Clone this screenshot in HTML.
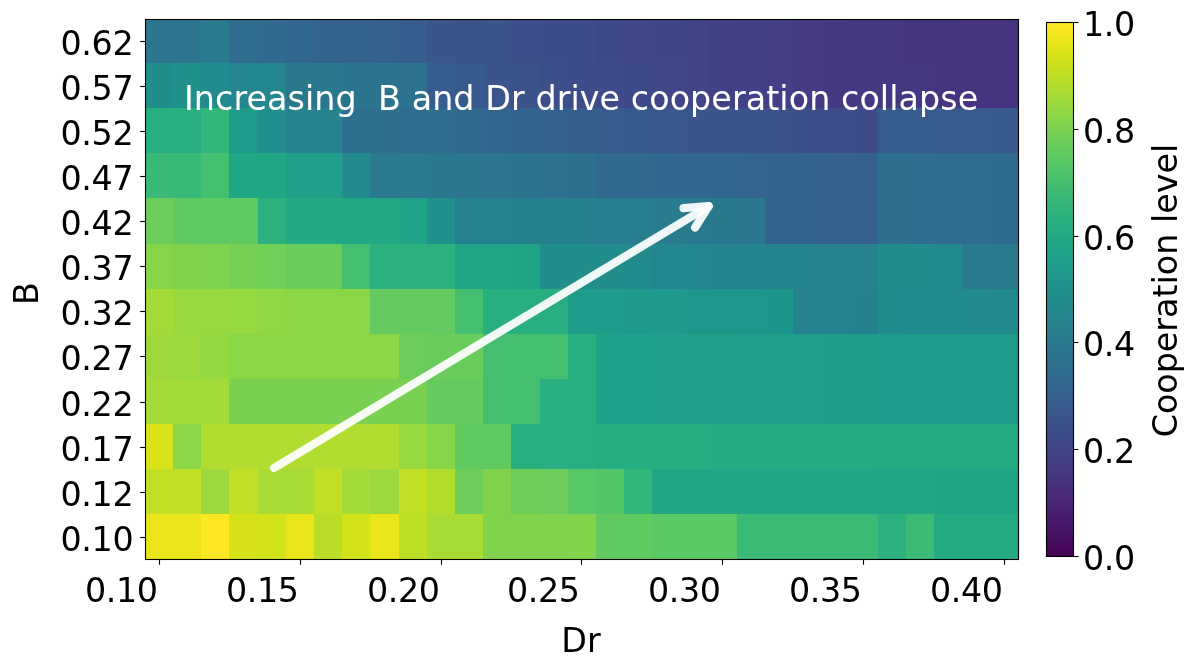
<!DOCTYPE html>
<html lang="en"><head><meta charset="utf-8"><title>Cooperation heatmap</title>
<style>html,body{margin:0;padding:0;background:#fff}body{width:1195px;height:668px;overflow:hidden}svg{display:block}text{font-family:"DejaVu Sans","Liberation Sans",sans-serif;font-size:33.33px;fill:#000}</style></head><body>
<svg width="1195" height="668" viewBox="0 0 1195 668">
<rect width="1195" height="668" fill="#fff"/>
<defs><clipPath id="axclip"><rect x="145.5" y="19.5" width="873" height="540"/></clipPath>
<linearGradient id="vir" x1="0" y1="0" x2="0" y2="1"><stop offset="0.0000" stop-color="#fde725"/><stop offset="0.0156" stop-color="#f6e620"/><stop offset="0.0312" stop-color="#ece51b"/><stop offset="0.0469" stop-color="#e2e418"/><stop offset="0.0625" stop-color="#d8e219"/><stop offset="0.0781" stop-color="#cde11d"/><stop offset="0.0938" stop-color="#c2df23"/><stop offset="0.1094" stop-color="#b8de29"/><stop offset="0.1250" stop-color="#addc30"/><stop offset="0.1406" stop-color="#a2da37"/><stop offset="0.1562" stop-color="#98d83e"/><stop offset="0.1719" stop-color="#8ed645"/><stop offset="0.1875" stop-color="#84d44b"/><stop offset="0.2031" stop-color="#7ad151"/><stop offset="0.2188" stop-color="#70cf57"/><stop offset="0.2344" stop-color="#67cc5c"/><stop offset="0.2500" stop-color="#5ec962"/><stop offset="0.2656" stop-color="#56c667"/><stop offset="0.2812" stop-color="#4ec36b"/><stop offset="0.2969" stop-color="#46c06f"/><stop offset="0.3125" stop-color="#3fbc73"/><stop offset="0.3281" stop-color="#38b977"/><stop offset="0.3438" stop-color="#32b67a"/><stop offset="0.3594" stop-color="#2db27d"/><stop offset="0.3750" stop-color="#28ae80"/><stop offset="0.3906" stop-color="#25ab82"/><stop offset="0.4062" stop-color="#22a785"/><stop offset="0.4219" stop-color="#20a386"/><stop offset="0.4375" stop-color="#1fa088"/><stop offset="0.4531" stop-color="#1e9c89"/><stop offset="0.4688" stop-color="#1f988b"/><stop offset="0.4844" stop-color="#1f948c"/><stop offset="0.5000" stop-color="#21918c"/><stop offset="0.5156" stop-color="#228d8d"/><stop offset="0.5312" stop-color="#23898e"/><stop offset="0.5469" stop-color="#25858e"/><stop offset="0.5625" stop-color="#26828e"/><stop offset="0.5781" stop-color="#277e8e"/><stop offset="0.5938" stop-color="#297a8e"/><stop offset="0.6094" stop-color="#2a768e"/><stop offset="0.6250" stop-color="#2c728e"/><stop offset="0.6406" stop-color="#2e6f8e"/><stop offset="0.6562" stop-color="#2f6b8e"/><stop offset="0.6719" stop-color="#31678e"/><stop offset="0.6875" stop-color="#33638d"/><stop offset="0.7031" stop-color="#355f8d"/><stop offset="0.7188" stop-color="#375b8d"/><stop offset="0.7344" stop-color="#39568c"/><stop offset="0.7500" stop-color="#3b528b"/><stop offset="0.7656" stop-color="#3d4e8a"/><stop offset="0.7812" stop-color="#3e4989"/><stop offset="0.7969" stop-color="#404588"/><stop offset="0.8125" stop-color="#424086"/><stop offset="0.8281" stop-color="#443b84"/><stop offset="0.8438" stop-color="#453781"/><stop offset="0.8594" stop-color="#46327e"/><stop offset="0.8750" stop-color="#472d7b"/><stop offset="0.8906" stop-color="#482878"/><stop offset="0.9062" stop-color="#482374"/><stop offset="0.9219" stop-color="#481d6f"/><stop offset="0.9375" stop-color="#48186a"/><stop offset="0.9531" stop-color="#471365"/><stop offset="0.9688" stop-color="#470d60"/><stop offset="0.9844" stop-color="#46075a"/><stop offset="1.0000" stop-color="#440154"/></linearGradient></defs>
<g clip-path="url(#axclip)" shape-rendering="crispEdges">
<rect x="145.00" y="19.00" width="875.50" height="542.50" fill="#2b758e"/>
<rect x="173.00" y="19.00" width="847.50" height="542.50" fill="#2b758e"/>
<rect x="201.00" y="19.00" width="819.50" height="542.50" fill="#287c8e"/>
<rect x="229.00" y="19.00" width="791.50" height="542.50" fill="#2f6c8e"/>
<rect x="258.00" y="19.00" width="762.50" height="542.50" fill="#306a8e"/>
<rect x="286.00" y="19.00" width="734.50" height="542.50" fill="#31678e"/>
<rect x="314.00" y="19.00" width="706.50" height="542.50" fill="#33628d"/>
<rect x="342.00" y="19.00" width="678.50" height="542.50" fill="#33628d"/>
<rect x="370.00" y="19.00" width="650.50" height="542.50" fill="#355f8d"/>
<rect x="399.00" y="19.00" width="621.50" height="542.50" fill="#365d8d"/>
<rect x="427.00" y="19.00" width="593.50" height="542.50" fill="#39558c"/>
<rect x="455.00" y="19.00" width="565.50" height="542.50" fill="#3b528b"/>
<rect x="483.00" y="19.00" width="537.50" height="542.50" fill="#3a548c"/>
<rect x="511.00" y="19.00" width="509.50" height="542.50" fill="#3d4e8a"/>
<rect x="540.00" y="19.00" width="480.50" height="542.50" fill="#3e4c8a"/>
<rect x="568.00" y="19.00" width="452.50" height="542.50" fill="#3e4c8a"/>
<rect x="596.00" y="19.00" width="424.50" height="542.50" fill="#3e4989"/>
<rect x="624.00" y="19.00" width="396.50" height="542.50" fill="#404688"/>
<rect x="652.00" y="19.00" width="368.50" height="542.50" fill="#404588"/>
<rect x="681.00" y="19.00" width="339.50" height="542.50" fill="#414487"/>
<rect x="709.00" y="19.00" width="311.50" height="542.50" fill="#424086"/>
<rect x="737.00" y="19.00" width="283.50" height="542.50" fill="#423f85"/>
<rect x="765.00" y="19.00" width="255.50" height="542.50" fill="#433e85"/>
<rect x="793.00" y="19.00" width="227.50" height="542.50" fill="#443b84"/>
<rect x="821.00" y="19.00" width="199.50" height="542.50" fill="#443a83"/>
<rect x="850.00" y="19.00" width="170.50" height="542.50" fill="#443983"/>
<rect x="878.00" y="19.00" width="142.50" height="542.50" fill="#453781"/>
<rect x="906.00" y="19.00" width="114.50" height="542.50" fill="#453581"/>
<rect x="934.00" y="19.00" width="86.50" height="542.50" fill="#453581"/>
<rect x="962.00" y="19.00" width="58.50" height="542.50" fill="#463480"/>
<rect x="991.00" y="19.00" width="29.50" height="542.50" fill="#463480"/>
<rect x="145.00" y="63.00" width="875.50" height="498.50" fill="#218e8d"/>
<rect x="173.00" y="63.00" width="847.50" height="498.50" fill="#21918c"/>
<rect x="201.00" y="63.00" width="819.50" height="498.50" fill="#228b8d"/>
<rect x="229.00" y="63.00" width="791.50" height="498.50" fill="#24868e"/>
<rect x="258.00" y="63.00" width="762.50" height="498.50" fill="#24868e"/>
<rect x="286.00" y="63.00" width="734.50" height="498.50" fill="#2a788e"/>
<rect x="314.00" y="63.00" width="706.50" height="498.50" fill="#2a788e"/>
<rect x="342.00" y="63.00" width="678.50" height="498.50" fill="#2b748e"/>
<rect x="370.00" y="63.00" width="650.50" height="498.50" fill="#2c738e"/>
<rect x="399.00" y="63.00" width="621.50" height="498.50" fill="#2c728e"/>
<rect x="427.00" y="63.00" width="593.50" height="498.50" fill="#365d8d"/>
<rect x="455.00" y="63.00" width="565.50" height="498.50" fill="#375a8c"/>
<rect x="483.00" y="63.00" width="537.50" height="498.50" fill="#39558c"/>
<rect x="511.00" y="63.00" width="509.50" height="498.50" fill="#3b528b"/>
<rect x="540.00" y="63.00" width="480.50" height="498.50" fill="#3c4f8a"/>
<rect x="568.00" y="63.00" width="452.50" height="498.50" fill="#3e4c8a"/>
<rect x="596.00" y="63.00" width="424.50" height="498.50" fill="#3e4a89"/>
<rect x="624.00" y="63.00" width="396.50" height="498.50" fill="#3e4989"/>
<rect x="652.00" y="63.00" width="368.50" height="498.50" fill="#404688"/>
<rect x="681.00" y="63.00" width="339.50" height="498.50" fill="#414487"/>
<rect x="709.00" y="63.00" width="311.50" height="498.50" fill="#424186"/>
<rect x="737.00" y="63.00" width="283.50" height="498.50" fill="#424086"/>
<rect x="765.00" y="63.00" width="255.50" height="498.50" fill="#433e85"/>
<rect x="793.00" y="63.00" width="227.50" height="498.50" fill="#443b84"/>
<rect x="821.00" y="63.00" width="199.50" height="498.50" fill="#443a83"/>
<rect x="850.00" y="63.00" width="170.50" height="498.50" fill="#443983"/>
<rect x="878.00" y="63.00" width="142.50" height="498.50" fill="#453781"/>
<rect x="906.00" y="63.00" width="114.50" height="498.50" fill="#453781"/>
<rect x="934.00" y="63.00" width="86.50" height="498.50" fill="#453581"/>
<rect x="962.00" y="63.00" width="58.50" height="498.50" fill="#463480"/>
<rect x="991.00" y="63.00" width="29.50" height="498.50" fill="#463480"/>
<rect x="145.00" y="108.00" width="875.50" height="453.50" fill="#29af7f"/>
<rect x="173.00" y="108.00" width="847.50" height="453.50" fill="#28ae80"/>
<rect x="201.00" y="108.00" width="819.50" height="453.50" fill="#32b67a"/>
<rect x="229.00" y="108.00" width="791.50" height="453.50" fill="#1e9c89"/>
<rect x="258.00" y="108.00" width="762.50" height="453.50" fill="#218f8d"/>
<rect x="286.00" y="108.00" width="734.50" height="453.50" fill="#26828e"/>
<rect x="314.00" y="108.00" width="706.50" height="453.50" fill="#26828e"/>
<rect x="342.00" y="108.00" width="678.50" height="453.50" fill="#2d708e"/>
<rect x="370.00" y="108.00" width="650.50" height="453.50" fill="#2e6f8e"/>
<rect x="399.00" y="108.00" width="621.50" height="453.50" fill="#2e6d8e"/>
<rect x="427.00" y="108.00" width="593.50" height="453.50" fill="#2f6c8e"/>
<rect x="455.00" y="108.00" width="565.50" height="453.50" fill="#31688e"/>
<rect x="483.00" y="108.00" width="537.50" height="453.50" fill="#31668e"/>
<rect x="511.00" y="108.00" width="509.50" height="453.50" fill="#33638d"/>
<rect x="540.00" y="108.00" width="480.50" height="453.50" fill="#34618d"/>
<rect x="568.00" y="108.00" width="452.50" height="453.50" fill="#355e8d"/>
<rect x="596.00" y="108.00" width="424.50" height="453.50" fill="#375b8d"/>
<rect x="624.00" y="108.00" width="396.50" height="453.50" fill="#375a8c"/>
<rect x="652.00" y="108.00" width="368.50" height="453.50" fill="#38588c"/>
<rect x="681.00" y="108.00" width="339.50" height="453.50" fill="#39558c"/>
<rect x="709.00" y="108.00" width="311.50" height="453.50" fill="#3a548c"/>
<rect x="737.00" y="108.00" width="283.50" height="453.50" fill="#3a538b"/>
<rect x="765.00" y="108.00" width="255.50" height="453.50" fill="#3b528b"/>
<rect x="793.00" y="108.00" width="227.50" height="453.50" fill="#3c4f8a"/>
<rect x="821.00" y="108.00" width="199.50" height="453.50" fill="#3d4e8a"/>
<rect x="850.00" y="108.00" width="170.50" height="453.50" fill="#3e4c8a"/>
<rect x="878.00" y="108.00" width="142.50" height="453.50" fill="#365d8d"/>
<rect x="906.00" y="108.00" width="114.50" height="453.50" fill="#365d8d"/>
<rect x="934.00" y="108.00" width="86.50" height="453.50" fill="#375b8d"/>
<rect x="962.00" y="108.00" width="58.50" height="453.50" fill="#375b8d"/>
<rect x="991.00" y="108.00" width="29.50" height="453.50" fill="#375a8c"/>
<rect x="145.00" y="153.00" width="875.50" height="408.50" fill="#38b977"/>
<rect x="173.00" y="153.00" width="847.50" height="408.50" fill="#38b977"/>
<rect x="201.00" y="153.00" width="819.50" height="408.50" fill="#44bf70"/>
<rect x="229.00" y="153.00" width="791.50" height="408.50" fill="#21a685"/>
<rect x="258.00" y="153.00" width="762.50" height="408.50" fill="#21a685"/>
<rect x="286.00" y="153.00" width="734.50" height="408.50" fill="#1f9e89"/>
<rect x="314.00" y="153.00" width="706.50" height="408.50" fill="#1f9e89"/>
<rect x="342.00" y="153.00" width="678.50" height="408.50" fill="#238a8d"/>
<rect x="370.00" y="153.00" width="650.50" height="408.50" fill="#297a8e"/>
<rect x="399.00" y="153.00" width="621.50" height="408.50" fill="#297a8e"/>
<rect x="427.00" y="153.00" width="593.50" height="408.50" fill="#2a788e"/>
<rect x="455.00" y="153.00" width="565.50" height="408.50" fill="#2a778e"/>
<rect x="483.00" y="153.00" width="537.50" height="408.50" fill="#2b758e"/>
<rect x="511.00" y="153.00" width="509.50" height="408.50" fill="#2b748e"/>
<rect x="540.00" y="153.00" width="480.50" height="408.50" fill="#2c728e"/>
<rect x="568.00" y="153.00" width="452.50" height="408.50" fill="#2d708e"/>
<rect x="596.00" y="153.00" width="424.50" height="408.50" fill="#31688e"/>
<rect x="624.00" y="153.00" width="396.50" height="408.50" fill="#31688e"/>
<rect x="652.00" y="153.00" width="368.50" height="408.50" fill="#31678e"/>
<rect x="681.00" y="153.00" width="339.50" height="408.50" fill="#31678e"/>
<rect x="709.00" y="153.00" width="311.50" height="408.50" fill="#31668e"/>
<rect x="737.00" y="153.00" width="283.50" height="408.50" fill="#32648e"/>
<rect x="765.00" y="153.00" width="255.50" height="408.50" fill="#33638d"/>
<rect x="793.00" y="153.00" width="227.50" height="408.50" fill="#33628d"/>
<rect x="821.00" y="153.00" width="199.50" height="408.50" fill="#34618d"/>
<rect x="850.00" y="153.00" width="170.50" height="408.50" fill="#355f8d"/>
<rect x="878.00" y="153.00" width="142.50" height="408.50" fill="#2e6f8e"/>
<rect x="906.00" y="153.00" width="114.50" height="408.50" fill="#2e6d8e"/>
<rect x="934.00" y="153.00" width="86.50" height="408.50" fill="#2f6c8e"/>
<rect x="962.00" y="153.00" width="58.50" height="408.50" fill="#2f6c8e"/>
<rect x="991.00" y="153.00" width="29.50" height="408.50" fill="#2f6b8e"/>
<rect x="145.00" y="198.00" width="875.50" height="363.50" fill="#6ccd5a"/>
<rect x="173.00" y="198.00" width="847.50" height="363.50" fill="#60ca60"/>
<rect x="201.00" y="198.00" width="819.50" height="363.50" fill="#5ec962"/>
<rect x="229.00" y="198.00" width="791.50" height="363.50" fill="#60ca60"/>
<rect x="258.00" y="198.00" width="762.50" height="363.50" fill="#2cb17e"/>
<rect x="286.00" y="198.00" width="734.50" height="363.50" fill="#22a884"/>
<rect x="314.00" y="198.00" width="706.50" height="363.50" fill="#22a884"/>
<rect x="342.00" y="198.00" width="678.50" height="363.50" fill="#22a884"/>
<rect x="370.00" y="198.00" width="650.50" height="363.50" fill="#22a884"/>
<rect x="399.00" y="198.00" width="621.50" height="363.50" fill="#20a386"/>
<rect x="427.00" y="198.00" width="593.50" height="363.50" fill="#21918c"/>
<rect x="455.00" y="198.00" width="565.50" height="363.50" fill="#26828e"/>
<rect x="483.00" y="198.00" width="537.50" height="363.50" fill="#26828e"/>
<rect x="511.00" y="198.00" width="509.50" height="363.50" fill="#26818e"/>
<rect x="540.00" y="198.00" width="480.50" height="363.50" fill="#27808e"/>
<rect x="568.00" y="198.00" width="452.50" height="363.50" fill="#27808e"/>
<rect x="596.00" y="198.00" width="424.50" height="363.50" fill="#277e8e"/>
<rect x="624.00" y="198.00" width="396.50" height="363.50" fill="#287d8e"/>
<rect x="652.00" y="198.00" width="368.50" height="363.50" fill="#287c8e"/>
<rect x="681.00" y="198.00" width="339.50" height="363.50" fill="#297a8e"/>
<rect x="709.00" y="198.00" width="311.50" height="363.50" fill="#29798e"/>
<rect x="737.00" y="198.00" width="283.50" height="363.50" fill="#2a788e"/>
<rect x="765.00" y="198.00" width="255.50" height="363.50" fill="#33638d"/>
<rect x="793.00" y="198.00" width="227.50" height="363.50" fill="#33628d"/>
<rect x="821.00" y="198.00" width="199.50" height="363.50" fill="#34618d"/>
<rect x="850.00" y="198.00" width="170.50" height="363.50" fill="#355f8d"/>
<rect x="878.00" y="198.00" width="142.50" height="363.50" fill="#2e6f8e"/>
<rect x="906.00" y="198.00" width="114.50" height="363.50" fill="#2e6d8e"/>
<rect x="934.00" y="198.00" width="86.50" height="363.50" fill="#2f6c8e"/>
<rect x="962.00" y="198.00" width="58.50" height="363.50" fill="#2f6c8e"/>
<rect x="991.00" y="198.00" width="29.50" height="363.50" fill="#2f6b8e"/>
<rect x="145.00" y="244.00" width="875.50" height="317.50" fill="#86d549"/>
<rect x="173.00" y="244.00" width="847.50" height="317.50" fill="#81d34d"/>
<rect x="201.00" y="244.00" width="819.50" height="317.50" fill="#7fd34e"/>
<rect x="229.00" y="244.00" width="791.50" height="317.50" fill="#75d054"/>
<rect x="258.00" y="244.00" width="762.50" height="317.50" fill="#70cf57"/>
<rect x="286.00" y="244.00" width="734.50" height="317.50" fill="#69cd5b"/>
<rect x="314.00" y="244.00" width="706.50" height="317.50" fill="#69cd5b"/>
<rect x="342.00" y="244.00" width="678.50" height="317.50" fill="#44bf70"/>
<rect x="370.00" y="244.00" width="650.50" height="317.50" fill="#2cb17e"/>
<rect x="399.00" y="244.00" width="621.50" height="317.50" fill="#2cb17e"/>
<rect x="427.00" y="244.00" width="593.50" height="317.50" fill="#2cb17e"/>
<rect x="455.00" y="244.00" width="565.50" height="317.50" fill="#21a685"/>
<rect x="483.00" y="244.00" width="537.50" height="317.50" fill="#21a685"/>
<rect x="511.00" y="244.00" width="509.50" height="317.50" fill="#20a486"/>
<rect x="540.00" y="244.00" width="480.50" height="317.50" fill="#228d8d"/>
<rect x="568.00" y="244.00" width="452.50" height="317.50" fill="#228d8d"/>
<rect x="596.00" y="244.00" width="424.50" height="317.50" fill="#228d8d"/>
<rect x="624.00" y="244.00" width="396.50" height="317.50" fill="#228b8d"/>
<rect x="652.00" y="244.00" width="368.50" height="317.50" fill="#24868e"/>
<rect x="681.00" y="244.00" width="339.50" height="317.50" fill="#24868e"/>
<rect x="709.00" y="244.00" width="311.50" height="317.50" fill="#25858e"/>
<rect x="737.00" y="244.00" width="283.50" height="317.50" fill="#25858e"/>
<rect x="765.00" y="244.00" width="255.50" height="317.50" fill="#25848e"/>
<rect x="793.00" y="244.00" width="227.50" height="317.50" fill="#25848e"/>
<rect x="821.00" y="244.00" width="199.50" height="317.50" fill="#26828e"/>
<rect x="850.00" y="244.00" width="170.50" height="317.50" fill="#26828e"/>
<rect x="878.00" y="244.00" width="142.50" height="317.50" fill="#228d8d"/>
<rect x="906.00" y="244.00" width="114.50" height="317.50" fill="#228d8d"/>
<rect x="934.00" y="244.00" width="86.50" height="317.50" fill="#228b8d"/>
<rect x="962.00" y="244.00" width="58.50" height="317.50" fill="#287c8e"/>
<rect x="991.00" y="244.00" width="29.50" height="317.50" fill="#297a8e"/>
<rect x="145.00" y="289.00" width="875.50" height="272.50" fill="#a2da37"/>
<rect x="173.00" y="289.00" width="847.50" height="272.50" fill="#98d83e"/>
<rect x="201.00" y="289.00" width="819.50" height="272.50" fill="#98d83e"/>
<rect x="229.00" y="289.00" width="791.50" height="272.50" fill="#95d840"/>
<rect x="258.00" y="289.00" width="762.50" height="272.50" fill="#90d743"/>
<rect x="286.00" y="289.00" width="734.50" height="272.50" fill="#8bd646"/>
<rect x="314.00" y="289.00" width="706.50" height="272.50" fill="#8bd646"/>
<rect x="342.00" y="289.00" width="678.50" height="272.50" fill="#8bd646"/>
<rect x="370.00" y="289.00" width="650.50" height="272.50" fill="#63cb5f"/>
<rect x="399.00" y="289.00" width="621.50" height="272.50" fill="#63cb5f"/>
<rect x="427.00" y="289.00" width="593.50" height="272.50" fill="#63cb5f"/>
<rect x="455.00" y="289.00" width="565.50" height="272.50" fill="#44bf70"/>
<rect x="483.00" y="289.00" width="537.50" height="272.50" fill="#29af7f"/>
<rect x="511.00" y="289.00" width="509.50" height="272.50" fill="#29af7f"/>
<rect x="540.00" y="289.00" width="480.50" height="272.50" fill="#28ae80"/>
<rect x="568.00" y="289.00" width="452.50" height="272.50" fill="#1e9c89"/>
<rect x="596.00" y="289.00" width="424.50" height="272.50" fill="#1e9b8a"/>
<rect x="624.00" y="289.00" width="396.50" height="272.50" fill="#1f9a8a"/>
<rect x="652.00" y="289.00" width="368.50" height="272.50" fill="#1f9a8a"/>
<rect x="681.00" y="289.00" width="339.50" height="272.50" fill="#1f988b"/>
<rect x="709.00" y="289.00" width="311.50" height="272.50" fill="#1f978b"/>
<rect x="737.00" y="289.00" width="283.50" height="272.50" fill="#1f978b"/>
<rect x="765.00" y="289.00" width="255.50" height="272.50" fill="#1f968b"/>
<rect x="793.00" y="289.00" width="227.50" height="272.50" fill="#26828e"/>
<rect x="821.00" y="289.00" width="199.50" height="272.50" fill="#26828e"/>
<rect x="850.00" y="289.00" width="170.50" height="272.50" fill="#26818e"/>
<rect x="878.00" y="289.00" width="142.50" height="272.50" fill="#228d8d"/>
<rect x="906.00" y="289.00" width="114.50" height="272.50" fill="#228b8d"/>
<rect x="934.00" y="289.00" width="86.50" height="272.50" fill="#228b8d"/>
<rect x="962.00" y="289.00" width="58.50" height="272.50" fill="#238a8d"/>
<rect x="991.00" y="289.00" width="29.50" height="272.50" fill="#238a8d"/>
<rect x="145.00" y="334.00" width="875.50" height="227.50" fill="#9dd93b"/>
<rect x="173.00" y="334.00" width="847.50" height="227.50" fill="#9bd93c"/>
<rect x="201.00" y="334.00" width="819.50" height="227.50" fill="#93d741"/>
<rect x="229.00" y="334.00" width="791.50" height="227.50" fill="#8bd646"/>
<rect x="258.00" y="334.00" width="762.50" height="227.50" fill="#8bd646"/>
<rect x="286.00" y="334.00" width="734.50" height="227.50" fill="#8bd646"/>
<rect x="314.00" y="334.00" width="706.50" height="227.50" fill="#8bd646"/>
<rect x="342.00" y="334.00" width="678.50" height="227.50" fill="#8bd646"/>
<rect x="370.00" y="334.00" width="650.50" height="227.50" fill="#8bd646"/>
<rect x="399.00" y="334.00" width="621.50" height="227.50" fill="#6ccd5a"/>
<rect x="427.00" y="334.00" width="593.50" height="227.50" fill="#69cd5b"/>
<rect x="455.00" y="334.00" width="565.50" height="227.50" fill="#69cd5b"/>
<rect x="483.00" y="334.00" width="537.50" height="227.50" fill="#44bf70"/>
<rect x="511.00" y="334.00" width="509.50" height="227.50" fill="#44bf70"/>
<rect x="540.00" y="334.00" width="480.50" height="227.50" fill="#44bf70"/>
<rect x="568.00" y="334.00" width="452.50" height="227.50" fill="#29af7f"/>
<rect x="596.00" y="334.00" width="424.50" height="227.50" fill="#1fa088"/>
<rect x="624.00" y="334.00" width="396.50" height="227.50" fill="#1fa088"/>
<rect x="652.00" y="334.00" width="368.50" height="227.50" fill="#1f9f88"/>
<rect x="681.00" y="334.00" width="339.50" height="227.50" fill="#1f9f88"/>
<rect x="709.00" y="334.00" width="311.50" height="227.50" fill="#1f9f88"/>
<rect x="737.00" y="334.00" width="283.50" height="227.50" fill="#1f9e89"/>
<rect x="765.00" y="334.00" width="255.50" height="227.50" fill="#1f9e89"/>
<rect x="793.00" y="334.00" width="227.50" height="227.50" fill="#1f9e89"/>
<rect x="821.00" y="334.00" width="199.50" height="227.50" fill="#1e9d89"/>
<rect x="850.00" y="334.00" width="170.50" height="227.50" fill="#1e9d89"/>
<rect x="878.00" y="334.00" width="142.50" height="227.50" fill="#1e9c89"/>
<rect x="906.00" y="334.00" width="114.50" height="227.50" fill="#1e9c89"/>
<rect x="934.00" y="334.00" width="86.50" height="227.50" fill="#1e9c89"/>
<rect x="962.00" y="334.00" width="58.50" height="227.50" fill="#1e9b8a"/>
<rect x="991.00" y="334.00" width="29.50" height="227.50" fill="#1e9b8a"/>
<rect x="145.00" y="379.00" width="875.50" height="182.50" fill="#a2da37"/>
<rect x="173.00" y="379.00" width="847.50" height="182.50" fill="#a2da37"/>
<rect x="201.00" y="379.00" width="819.50" height="182.50" fill="#a2da37"/>
<rect x="229.00" y="379.00" width="791.50" height="182.50" fill="#7ad151"/>
<rect x="258.00" y="379.00" width="762.50" height="182.50" fill="#7ad151"/>
<rect x="286.00" y="379.00" width="734.50" height="182.50" fill="#7ad151"/>
<rect x="314.00" y="379.00" width="706.50" height="182.50" fill="#7ad151"/>
<rect x="342.00" y="379.00" width="678.50" height="182.50" fill="#7ad151"/>
<rect x="370.00" y="379.00" width="650.50" height="182.50" fill="#7ad151"/>
<rect x="399.00" y="379.00" width="621.50" height="182.50" fill="#7ad151"/>
<rect x="427.00" y="379.00" width="593.50" height="182.50" fill="#65cb5e"/>
<rect x="455.00" y="379.00" width="565.50" height="182.50" fill="#65cb5e"/>
<rect x="483.00" y="379.00" width="537.50" height="182.50" fill="#44bf70"/>
<rect x="511.00" y="379.00" width="509.50" height="182.50" fill="#44bf70"/>
<rect x="540.00" y="379.00" width="480.50" height="182.50" fill="#29af7f"/>
<rect x="568.00" y="379.00" width="452.50" height="182.50" fill="#29af7f"/>
<rect x="596.00" y="379.00" width="424.50" height="182.50" fill="#1fa088"/>
<rect x="624.00" y="379.00" width="396.50" height="182.50" fill="#1fa088"/>
<rect x="652.00" y="379.00" width="368.50" height="182.50" fill="#1f9f88"/>
<rect x="681.00" y="379.00" width="339.50" height="182.50" fill="#1f9f88"/>
<rect x="709.00" y="379.00" width="311.50" height="182.50" fill="#1f9f88"/>
<rect x="737.00" y="379.00" width="283.50" height="182.50" fill="#1f9e89"/>
<rect x="765.00" y="379.00" width="255.50" height="182.50" fill="#1f9e89"/>
<rect x="793.00" y="379.00" width="227.50" height="182.50" fill="#1f9e89"/>
<rect x="821.00" y="379.00" width="199.50" height="182.50" fill="#1e9d89"/>
<rect x="850.00" y="379.00" width="170.50" height="182.50" fill="#1e9d89"/>
<rect x="878.00" y="379.00" width="142.50" height="182.50" fill="#1e9c89"/>
<rect x="906.00" y="379.00" width="114.50" height="182.50" fill="#1e9c89"/>
<rect x="934.00" y="379.00" width="86.50" height="182.50" fill="#1e9c89"/>
<rect x="962.00" y="379.00" width="58.50" height="182.50" fill="#1e9b8a"/>
<rect x="991.00" y="379.00" width="29.50" height="182.50" fill="#1e9b8a"/>
<rect x="145.00" y="424.00" width="875.50" height="137.50" fill="#dae319"/>
<rect x="173.00" y="424.00" width="847.50" height="137.50" fill="#8bd646"/>
<rect x="201.00" y="424.00" width="819.50" height="137.50" fill="#b0dd2f"/>
<rect x="229.00" y="424.00" width="791.50" height="137.50" fill="#b0dd2f"/>
<rect x="258.00" y="424.00" width="762.50" height="137.50" fill="#b0dd2f"/>
<rect x="286.00" y="424.00" width="734.50" height="137.50" fill="#b0dd2f"/>
<rect x="314.00" y="424.00" width="706.50" height="137.50" fill="#b0dd2f"/>
<rect x="342.00" y="424.00" width="678.50" height="137.50" fill="#b0dd2f"/>
<rect x="370.00" y="424.00" width="650.50" height="137.50" fill="#b0dd2f"/>
<rect x="399.00" y="424.00" width="621.50" height="137.50" fill="#95d840"/>
<rect x="427.00" y="424.00" width="593.50" height="137.50" fill="#86d549"/>
<rect x="455.00" y="424.00" width="565.50" height="137.50" fill="#60ca60"/>
<rect x="483.00" y="424.00" width="537.50" height="137.50" fill="#60ca60"/>
<rect x="511.00" y="424.00" width="509.50" height="137.50" fill="#28ae80"/>
<rect x="540.00" y="424.00" width="480.50" height="137.50" fill="#28ae80"/>
<rect x="568.00" y="424.00" width="452.50" height="137.50" fill="#28ae80"/>
<rect x="596.00" y="424.00" width="424.50" height="137.50" fill="#26ad81"/>
<rect x="624.00" y="424.00" width="396.50" height="137.50" fill="#26ad81"/>
<rect x="652.00" y="424.00" width="368.50" height="137.50" fill="#26ad81"/>
<rect x="681.00" y="424.00" width="339.50" height="137.50" fill="#26ad81"/>
<rect x="709.00" y="424.00" width="311.50" height="137.50" fill="#25ac82"/>
<rect x="737.00" y="424.00" width="283.50" height="137.50" fill="#25ac82"/>
<rect x="765.00" y="424.00" width="255.50" height="137.50" fill="#25ac82"/>
<rect x="793.00" y="424.00" width="227.50" height="137.50" fill="#25ac82"/>
<rect x="821.00" y="424.00" width="199.50" height="137.50" fill="#25ac82"/>
<rect x="850.00" y="424.00" width="170.50" height="137.50" fill="#25ac82"/>
<rect x="878.00" y="424.00" width="142.50" height="137.50" fill="#25ab82"/>
<rect x="906.00" y="424.00" width="114.50" height="137.50" fill="#25ab82"/>
<rect x="934.00" y="424.00" width="86.50" height="137.50" fill="#25ab82"/>
<rect x="962.00" y="424.00" width="58.50" height="137.50" fill="#25ab82"/>
<rect x="991.00" y="424.00" width="29.50" height="137.50" fill="#25ab82"/>
<rect x="145.00" y="469.00" width="875.50" height="92.50" fill="#c2df23"/>
<rect x="173.00" y="469.00" width="847.50" height="92.50" fill="#c0df25"/>
<rect x="201.00" y="469.00" width="819.50" height="92.50" fill="#9dd93b"/>
<rect x="229.00" y="469.00" width="791.50" height="92.50" fill="#c0df25"/>
<rect x="258.00" y="469.00" width="762.50" height="92.50" fill="#a8db34"/>
<rect x="286.00" y="469.00" width="734.50" height="92.50" fill="#a8db34"/>
<rect x="314.00" y="469.00" width="706.50" height="92.50" fill="#c0df25"/>
<rect x="342.00" y="469.00" width="678.50" height="92.50" fill="#a5db36"/>
<rect x="370.00" y="469.00" width="650.50" height="92.50" fill="#9bd93c"/>
<rect x="399.00" y="469.00" width="621.50" height="92.50" fill="#c0df25"/>
<rect x="427.00" y="469.00" width="593.50" height="92.50" fill="#b2dd2d"/>
<rect x="455.00" y="469.00" width="565.50" height="92.50" fill="#6ccd5a"/>
<rect x="483.00" y="469.00" width="537.50" height="92.50" fill="#81d34d"/>
<rect x="511.00" y="469.00" width="509.50" height="92.50" fill="#6ece58"/>
<rect x="540.00" y="469.00" width="480.50" height="92.50" fill="#6ccd5a"/>
<rect x="568.00" y="469.00" width="452.50" height="92.50" fill="#58c765"/>
<rect x="596.00" y="469.00" width="424.50" height="92.50" fill="#52c569"/>
<rect x="624.00" y="469.00" width="396.50" height="92.50" fill="#32b67a"/>
<rect x="652.00" y="469.00" width="368.50" height="92.50" fill="#21a685"/>
<rect x="681.00" y="469.00" width="339.50" height="92.50" fill="#21a585"/>
<rect x="709.00" y="469.00" width="311.50" height="92.50" fill="#21a585"/>
<rect x="737.00" y="469.00" width="283.50" height="92.50" fill="#21a585"/>
<rect x="765.00" y="469.00" width="255.50" height="92.50" fill="#21a585"/>
<rect x="793.00" y="469.00" width="227.50" height="92.50" fill="#21a585"/>
<rect x="821.00" y="469.00" width="199.50" height="92.50" fill="#21a585"/>
<rect x="850.00" y="469.00" width="170.50" height="92.50" fill="#21a585"/>
<rect x="878.00" y="469.00" width="142.50" height="92.50" fill="#21a585"/>
<rect x="906.00" y="469.00" width="114.50" height="92.50" fill="#21a585"/>
<rect x="934.00" y="469.00" width="86.50" height="92.50" fill="#20a486"/>
<rect x="962.00" y="469.00" width="58.50" height="92.50" fill="#20a486"/>
<rect x="991.00" y="469.00" width="29.50" height="92.50" fill="#20a486"/>
<rect x="145.00" y="514.00" width="875.50" height="47.50" fill="#eae51a"/>
<rect x="173.00" y="514.00" width="847.50" height="47.50" fill="#eae51a"/>
<rect x="201.00" y="514.00" width="819.50" height="47.50" fill="#fde725"/>
<rect x="229.00" y="514.00" width="791.50" height="47.50" fill="#d5e21a"/>
<rect x="258.00" y="514.00" width="762.50" height="47.50" fill="#d2e21b"/>
<rect x="286.00" y="514.00" width="734.50" height="47.50" fill="#eae51a"/>
<rect x="314.00" y="514.00" width="706.50" height="47.50" fill="#bade28"/>
<rect x="342.00" y="514.00" width="678.50" height="47.50" fill="#d2e21b"/>
<rect x="370.00" y="514.00" width="650.50" height="47.50" fill="#eae51a"/>
<rect x="399.00" y="514.00" width="621.50" height="47.50" fill="#bddf26"/>
<rect x="427.00" y="514.00" width="593.50" height="47.50" fill="#a8db34"/>
<rect x="455.00" y="514.00" width="565.50" height="47.50" fill="#a8db34"/>
<rect x="483.00" y="514.00" width="537.50" height="47.50" fill="#81d34d"/>
<rect x="511.00" y="514.00" width="509.50" height="47.50" fill="#81d34d"/>
<rect x="540.00" y="514.00" width="480.50" height="47.50" fill="#81d34d"/>
<rect x="568.00" y="514.00" width="452.50" height="47.50" fill="#84d44b"/>
<rect x="596.00" y="514.00" width="424.50" height="47.50" fill="#60ca60"/>
<rect x="624.00" y="514.00" width="396.50" height="47.50" fill="#60ca60"/>
<rect x="652.00" y="514.00" width="368.50" height="47.50" fill="#5ac864"/>
<rect x="681.00" y="514.00" width="339.50" height="47.50" fill="#5ac864"/>
<rect x="709.00" y="514.00" width="311.50" height="47.50" fill="#5ac864"/>
<rect x="737.00" y="514.00" width="283.50" height="47.50" fill="#3bbb75"/>
<rect x="765.00" y="514.00" width="255.50" height="47.50" fill="#3bbb75"/>
<rect x="793.00" y="514.00" width="227.50" height="47.50" fill="#3bbb75"/>
<rect x="821.00" y="514.00" width="199.50" height="47.50" fill="#3bbb75"/>
<rect x="850.00" y="514.00" width="170.50" height="47.50" fill="#3bbb75"/>
<rect x="878.00" y="514.00" width="142.50" height="47.50" fill="#2cb17e"/>
<rect x="906.00" y="514.00" width="114.50" height="47.50" fill="#3bbb75"/>
<rect x="934.00" y="514.00" width="86.50" height="47.50" fill="#25ab82"/>
<rect x="962.00" y="514.00" width="58.50" height="47.50" fill="#25ab82"/>
<rect x="991.00" y="514.00" width="29.50" height="47.50" fill="#25ab82"/>
</g>
<g fill="none" stroke="#fff" stroke-opacity="0.93" stroke-width="8.2" stroke-linecap="round" stroke-linejoin="round"><path d="M274.00 467.90 L708.60 206.20"/><path d="M683.48 208.17 L708.60 206.20 L695.11 227.48"/></g>
<text id="ann" x="183.9" y="110" textLength="794.3" style="fill:#fff;white-space:pre" xml:space="preserve">Increasing  B and Dr drive cooperation collapse</text>
<rect x="145.5" y="19.5" width="873" height="540" fill="none" stroke="#000" stroke-width="1.1"/>
<line x1="140.2" y1="41.50" x2="145.5" y2="41.50" stroke="#000" stroke-width="1.1"/>
<text x="133.6" y="54.60" text-anchor="end" textLength="73.1">0.62</text>
<line x1="140.2" y1="86.50" x2="145.5" y2="86.50" stroke="#000" stroke-width="1.1"/>
<text x="133.6" y="99.60" text-anchor="end" textLength="73.1">0.57</text>
<line x1="140.2" y1="131.50" x2="145.5" y2="131.50" stroke="#000" stroke-width="1.1"/>
<text x="133.6" y="144.60" text-anchor="end" textLength="73.1">0.52</text>
<line x1="140.2" y1="176.50" x2="145.5" y2="176.50" stroke="#000" stroke-width="1.1"/>
<text x="133.6" y="189.60" text-anchor="end" textLength="73.1">0.47</text>
<line x1="140.2" y1="221.50" x2="145.5" y2="221.50" stroke="#000" stroke-width="1.1"/>
<text x="133.6" y="234.60" text-anchor="end" textLength="73.1">0.42</text>
<line x1="140.2" y1="266.50" x2="145.5" y2="266.50" stroke="#000" stroke-width="1.1"/>
<text x="133.6" y="279.60" text-anchor="end" textLength="73.1">0.37</text>
<line x1="140.2" y1="311.50" x2="145.5" y2="311.50" stroke="#000" stroke-width="1.1"/>
<text x="133.6" y="324.60" text-anchor="end" textLength="73.1">0.32</text>
<line x1="140.2" y1="356.50" x2="145.5" y2="356.50" stroke="#000" stroke-width="1.1"/>
<text x="133.6" y="369.60" text-anchor="end" textLength="73.1">0.27</text>
<line x1="140.2" y1="402.50" x2="145.5" y2="402.50" stroke="#000" stroke-width="1.1"/>
<text x="133.6" y="415.60" text-anchor="end" textLength="73.1">0.22</text>
<line x1="140.2" y1="447.50" x2="145.5" y2="447.50" stroke="#000" stroke-width="1.1"/>
<text x="133.6" y="460.60" text-anchor="end" textLength="73.1">0.17</text>
<line x1="140.2" y1="492.50" x2="145.5" y2="492.50" stroke="#000" stroke-width="1.1"/>
<text x="133.6" y="505.60" text-anchor="end" textLength="73.1">0.12</text>
<line x1="140.2" y1="537.50" x2="145.5" y2="537.50" stroke="#000" stroke-width="1.1"/>
<text x="133.6" y="550.60" text-anchor="end" textLength="73.1">0.10</text>
<line x1="159.50" y1="559.5" x2="159.50" y2="564.7" stroke="#000" stroke-width="1.1"/>
<text x="158.00" y="602.3" text-anchor="end" textLength="73.1">0.10</text>
<line x1="300.50" y1="559.5" x2="300.50" y2="564.7" stroke="#000" stroke-width="1.1"/>
<text x="299.00" y="602.3" text-anchor="end" textLength="73.1">0.15</text>
<line x1="441.50" y1="559.5" x2="441.50" y2="564.7" stroke="#000" stroke-width="1.1"/>
<text x="440.00" y="602.3" text-anchor="end" textLength="73.1">0.20</text>
<line x1="581.50" y1="559.5" x2="581.50" y2="564.7" stroke="#000" stroke-width="1.1"/>
<text x="580.00" y="602.3" text-anchor="end" textLength="73.1">0.25</text>
<line x1="722.50" y1="559.5" x2="722.50" y2="564.7" stroke="#000" stroke-width="1.1"/>
<text x="721.00" y="602.3" text-anchor="end" textLength="73.1">0.30</text>
<line x1="863.50" y1="559.5" x2="863.50" y2="564.7" stroke="#000" stroke-width="1.1"/>
<text x="862.00" y="602.3" text-anchor="end" textLength="73.1">0.35</text>
<line x1="1004.50" y1="559.5" x2="1004.50" y2="564.7" stroke="#000" stroke-width="1.1"/>
<text x="1003.00" y="602.3" text-anchor="end" textLength="73.1">0.40</text>
<text id="xl" x="581" y="652.3" text-anchor="middle">Dr</text>
<text id="yl" transform="translate(37.6,293.6) rotate(-90)" text-anchor="middle">B</text>
<rect x="1046.5" y="22.5" width="27" height="534" fill="url(#vir)" stroke="#000" stroke-width="1.1"/>
<line x1="1073.5" y1="22.50" x2="1078.5" y2="22.50" stroke="#000" stroke-width="1.1"/>
<text x="1082.9" y="35.80" textLength="52.2">1.0</text>
<line x1="1073.5" y1="129.50" x2="1078.5" y2="129.50" stroke="#000" stroke-width="1.1"/>
<text x="1082.9" y="142.80" textLength="52.2">0.8</text>
<line x1="1073.5" y1="236.50" x2="1078.5" y2="236.50" stroke="#000" stroke-width="1.1"/>
<text x="1082.9" y="249.80" textLength="52.2">0.6</text>
<line x1="1073.5" y1="342.50" x2="1078.5" y2="342.50" stroke="#000" stroke-width="1.1"/>
<text x="1082.9" y="355.80" textLength="52.2">0.4</text>
<line x1="1073.5" y1="449.50" x2="1078.5" y2="449.50" stroke="#000" stroke-width="1.1"/>
<text x="1082.9" y="462.80" textLength="52.2">0.2</text>
<line x1="1073.5" y1="556.50" x2="1078.5" y2="556.50" stroke="#000" stroke-width="1.1"/>
<text x="1082.9" y="569.80" textLength="52.2">0.0</text>
<text id="cl" transform="translate(1177.2,290.6) rotate(-90)" text-anchor="middle">Cooperation level</text>
</svg></body></html>
